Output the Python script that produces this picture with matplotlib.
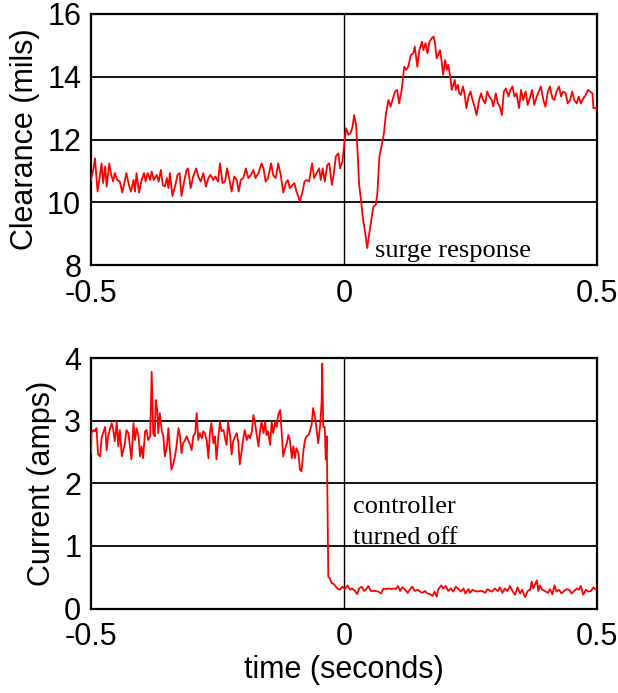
import matplotlib
matplotlib.use("Agg")
import matplotlib.pyplot as plt

plt.rcParams["font.family"] = ["Liberation Sans", "DejaVu Sans"]
plt.rcParams["axes.unicode_minus"] = False

# --- clearance trace (mils) ---
t_clear = [
    -0.500, -0.495, -0.492, -0.487, -0.484, -0.479, -0.476, -0.472, -0.469, -0.464,
    -0.460, -0.456, -0.453, -0.448, -0.443, -0.438, -0.433, -0.430, -0.425, -0.421,
    -0.416, -0.413, -0.410, -0.405, -0.400, -0.395, -0.392, -0.388, -0.383, -0.380,
    -0.376, -0.370, -0.366, -0.362, -0.358, -0.354, -0.350, -0.347, -0.344, -0.339,
    -0.334, -0.329, -0.325, -0.321, -0.316, -0.311, -0.308, -0.303, -0.298, -0.292,
    -0.288, -0.283, -0.278, -0.273, -0.268, -0.264, -0.258, -0.254, -0.249, -0.245,
    -0.240, -0.235, -0.231, -0.227, -0.222, -0.217, -0.212, -0.208, -0.204, -0.199,
    -0.194, -0.189, -0.184, -0.179, -0.175, -0.169, -0.163, -0.159, -0.155, -0.150,
    -0.144, -0.140, -0.135, -0.130, -0.125, -0.120, -0.115, -0.111, -0.107, -0.102,
    -0.098, -0.094, -0.090, -0.087, -0.082, -0.078, -0.074, -0.069, -0.063, -0.059,
    -0.054, -0.049, -0.046, -0.042, -0.038, -0.033, -0.029, -0.024, -0.021, -0.016,
    -0.011, -0.008, -0.003, 0.000, 0.004, 0.009, 0.013, 0.017, 0.020, 0.024,
    0.027, 0.030, 0.034, 0.037, 0.042, 0.046, 0.050, 0.053, 0.058, 0.063,
    0.066, 0.070, 0.074, 0.079, 0.083, 0.088, 0.092, 0.096, 0.101, 0.105,
    0.109, 0.114, 0.119, 0.123, 0.127, 0.132, 0.137, 0.140, 0.145, 0.149,
    0.154, 0.157, 0.161, 0.165, 0.169, 0.173, 0.177, 0.180, 0.183, 0.186,
    0.190, 0.193, 0.196, 0.200, 0.203, 0.206, 0.210, 0.213, 0.216, 0.219,
    0.221, 0.225, 0.228, 0.231, 0.235, 0.238, 0.242, 0.246, 0.250, 0.254,
    0.258, 0.262, 0.267, 0.271, 0.275, 0.279, 0.283, 0.287, 0.292, 0.295,
    0.300, 0.304, 0.308, 0.312, 0.316, 0.320, 0.325, 0.329, 0.333, 0.337,
    0.341, 0.346, 0.350, 0.354, 0.359, 0.363, 0.368, 0.372, 0.376, 0.381,
    0.385, 0.389, 0.394, 0.398, 0.403, 0.407, 0.412, 0.416, 0.420, 0.425,
    0.429, 0.433, 0.438, 0.442, 0.447, 0.451, 0.455, 0.460, 0.464, 0.468,
    0.473, 0.478, 0.482, 0.486, 0.491, 0.493, 0.497, 0.500,
]
clearance = [
    10.71, 11.08, 11.40, 10.34, 10.66, 11.24, 10.61, 11.14, 10.50, 11.24,
    10.87, 10.66, 10.93, 10.71, 10.66, 10.31, 10.71, 10.93, 10.55, 10.34,
    10.71, 10.34, 10.93, 10.31, 10.71, 10.93, 10.66, 10.93, 10.71, 10.98,
    10.71, 10.87, 10.66, 11.03, 10.55, 10.50, 10.77, 10.45, 10.93, 10.20,
    10.50, 10.87, 10.93, 10.20, 10.66, 11.03, 11.08, 10.45, 10.82, 11.08,
    10.82, 10.66, 10.93, 10.50, 10.77, 10.87, 10.71, 10.82, 10.66, 11.24,
    10.61, 10.66, 11.08, 10.77, 10.34, 10.82, 10.71, 10.34, 10.71, 10.77,
    11.08, 10.77, 10.87, 11.03, 10.77, 10.93, 11.24, 11.08, 10.66, 10.77,
    11.24, 10.87, 10.77, 11.24, 10.87, 10.31, 10.61, 10.71, 10.45, 10.55,
    10.61, 10.34, 10.18, 10.02, 10.34, 10.66, 10.71, 10.66, 11.24, 10.77,
    10.93, 11.08, 10.71, 11.08, 10.66, 11.19, 11.24, 10.55, 10.82, 11.46,
    11.56, 11.08, 11.30, 11.77, 12.36, 12.15, 12.20, 12.41, 12.78, 12.46,
    11.56, 10.55, 10.02, 9.55, 9.01, 8.54, 9.01, 9.33, 9.86, 9.92,
    10.29, 11.46, 11.77, 12.20, 12.84, 13.26, 13.05, 13.26, 13.53, 13.58,
    13.15, 13.58, 14.32, 14.22, 14.32, 14.69, 14.75, 14.96, 14.32, 14.85,
    15.12, 14.85, 15.07, 14.75, 15.12, 15.22, 15.28, 15.07, 14.59, 14.69,
    14.85, 14.48, 14.06, 14.53, 14.22, 14.38, 14.00, 13.58, 13.74, 13.90,
    13.58, 13.74, 13.47, 13.42, 13.69, 13.47, 13.00, 13.37, 13.53, 13.26,
    13.05, 12.78, 13.26, 13.47, 13.26, 13.15, 13.53, 13.37, 13.26, 13.05,
    13.47, 13.15, 13.05, 12.78, 13.53, 13.63, 13.37, 13.58, 13.69, 13.37,
    13.47, 13.00, 13.58, 13.26, 13.53, 13.10, 13.37, 13.58, 13.10, 13.37,
    13.53, 13.69, 13.26, 13.05, 13.53, 13.69, 13.31, 13.26, 13.53, 13.69,
    13.37, 13.53, 13.47, 13.15, 13.26, 13.53, 13.26, 13.15, 13.37, 13.15,
    13.31, 13.42, 13.58, 13.53, 13.47, 13.00, 13.00, 13.00,
]

# --- controller current trace (amps) ---
t_curr = [
    -0.500, -0.499, -0.495, -0.492, -0.489, -0.486, -0.482, -0.479, -0.476, -0.472,
    -0.469, -0.466, -0.462, -0.459, -0.456, -0.453, -0.449, -0.446, -0.443, -0.439,
    -0.436, -0.433, -0.430, -0.426, -0.423, -0.420, -0.416, -0.413, -0.410, -0.406,
    -0.403, -0.400, -0.397, -0.393, -0.390, -0.387, -0.383, -0.380, -0.377, -0.374,
    -0.372, -0.369, -0.367, -0.364, -0.360, -0.357, -0.354, -0.350, -0.347, -0.344,
    -0.341, -0.337, -0.334, -0.331, -0.327, -0.324, -0.321, -0.318, -0.314, -0.311,
    -0.308, -0.304, -0.301, -0.298, -0.294, -0.291, -0.288, -0.285, -0.281, -0.278,
    -0.275, -0.271, -0.268, -0.265, -0.262, -0.258, -0.255, -0.252, -0.248, -0.245,
    -0.242, -0.238, -0.235, -0.232, -0.229, -0.225, -0.222, -0.219, -0.215, -0.212,
    -0.209, -0.206, -0.202, -0.199, -0.196, -0.192, -0.189, -0.186, -0.182, -0.179,
    -0.176, -0.173, -0.169, -0.166, -0.163, -0.159, -0.156, -0.153, -0.150, -0.146,
    -0.143, -0.140, -0.136, -0.133, -0.130, -0.126, -0.123, -0.120, -0.117, -0.113,
    -0.110, -0.107, -0.103, -0.100, -0.097, -0.094, -0.090, -0.087, -0.084, -0.080,
    -0.077, -0.074, -0.070, -0.067, -0.064, -0.061, -0.057, -0.054, -0.051, -0.047,
    -0.044, -0.043, -0.041, -0.038, -0.036, -0.034, -0.033, -0.031, -0.028, -0.024,
    -0.021, -0.013, -0.008, -0.003, 0.002, 0.007, 0.012, 0.016, 0.022, 0.026,
    0.030, 0.035, 0.040, 0.045, 0.048, 0.053, 0.058, 0.063, 0.068, 0.073,
    0.078, 0.082, 0.088, 0.093, 0.098, 0.102, 0.107, 0.111, 0.115, 0.121,
    0.126, 0.130, 0.135, 0.140, 0.146, 0.150, 0.155, 0.160, 0.165, 0.170,
    0.175, 0.179, 0.183, 0.186, 0.192, 0.196, 0.201, 0.206, 0.211, 0.216,
    0.221, 0.226, 0.231, 0.236, 0.240, 0.246, 0.249, 0.254, 0.259, 0.264,
    0.269, 0.273, 0.279, 0.284, 0.289, 0.293, 0.298, 0.304, 0.308, 0.313,
    0.318, 0.323, 0.328, 0.333, 0.338, 0.343, 0.348, 0.352, 0.358, 0.363,
    0.368, 0.371, 0.374, 0.377, 0.381, 0.384, 0.387, 0.392, 0.397, 0.403,
    0.407, 0.412, 0.416, 0.420, 0.425, 0.430, 0.435, 0.440, 0.445, 0.450,
    0.455, 0.460, 0.464, 0.468, 0.473, 0.478, 0.483, 0.488, 0.493, 0.496,
    0.500,
]
current = [
    2.48, 2.80, 2.85, 2.83, 2.88, 2.46, 2.43, 2.72, 2.80, 2.90,
    2.53, 2.75, 2.88, 2.96, 2.85, 2.67, 2.98, 2.59, 2.85, 2.43,
    2.53, 2.64, 2.85, 2.80, 2.59, 2.38, 2.96, 2.69, 2.88, 2.75,
    2.43, 2.59, 2.40, 2.83, 2.85, 2.69, 2.75, 3.78, 2.80, 2.75,
    3.33, 3.17, 2.80, 3.12, 2.83, 2.75, 2.43, 2.59, 2.88, 2.53,
    2.22, 2.32, 2.43, 2.59, 2.88, 2.75, 2.48, 2.64, 2.69, 2.75,
    2.69, 2.61, 2.53, 2.75, 2.80, 3.12, 2.69, 2.80, 2.72, 2.83,
    2.80, 2.67, 2.40, 2.80, 2.96, 2.64, 2.75, 2.38, 2.77, 2.98,
    2.83, 2.85, 2.72, 2.61, 2.98, 2.75, 2.46, 2.67, 2.75, 2.80,
    2.67, 2.30, 2.53, 2.72, 2.85, 2.69, 2.77, 2.72, 2.83, 3.09,
    2.98, 2.80, 2.59, 2.83, 2.98, 2.80, 2.98, 2.77, 2.83, 2.61,
    2.98, 2.80, 2.98, 2.90, 3.09, 3.17, 2.80, 2.43, 2.53, 2.64,
    2.77, 2.69, 2.40, 2.59, 2.40, 2.56, 2.48, 2.22, 2.19, 2.53,
    2.69, 2.75, 2.77, 2.85, 2.93, 3.20, 3.04, 2.85, 2.64, 2.93,
    3.33, 3.91, 2.90, 2.90, 2.38, 2.75, 2.01, 0.51, 0.48, 0.40,
    0.40, 0.32, 0.30, 0.35, 0.31, 0.37, 0.30, 0.32, 0.28, 0.23,
    0.32, 0.35, 0.28, 0.32, 0.36, 0.28, 0.28, 0.28, 0.27, 0.24,
    0.32, 0.31, 0.32, 0.31, 0.32, 0.31, 0.36, 0.28, 0.34, 0.30,
    0.25, 0.30, 0.35, 0.28, 0.30, 0.27, 0.25, 0.28, 0.24, 0.23,
    0.20, 0.27, 0.19, 0.30, 0.37, 0.32, 0.36, 0.28, 0.32, 0.27,
    0.35, 0.31, 0.27, 0.32, 0.24, 0.31, 0.25, 0.30, 0.28, 0.27,
    0.28, 0.28, 0.25, 0.31, 0.28, 0.27, 0.32, 0.28, 0.34, 0.25,
    0.32, 0.28, 0.36, 0.28, 0.22, 0.34, 0.24, 0.30, 0.18, 0.28,
    0.30, 0.43, 0.32, 0.37, 0.45, 0.28, 0.37, 0.30, 0.28, 0.25,
    0.31, 0.23, 0.37, 0.27, 0.30, 0.24, 0.28, 0.31, 0.30, 0.24,
    0.28, 0.32, 0.30, 0.36, 0.22, 0.30, 0.27, 0.28, 0.34, 0.31,
    0.31,
]

x_ticks = [-0.5, 0, 0.5]
x_ticklabels = ["-0.5", "0", "0.5"]
clear_ticks = [8, 10, 12, 14, 16]
curr_ticks = [0, 1, 2, 3, 4]

fig = plt.figure(figsize=(6.18, 6.93), dpi=100)
ax1 = fig.add_axes([0.1472, 0.6176, 0.8188, 0.3622])
ax2 = fig.add_axes([0.1472, 0.1219, 0.8188, 0.3615])

for ax, yt in ((ax1, clear_ticks), (ax2, curr_ticks)):
    ax.set_xlim(-0.5, 0.5)
    ax.set_ylim(yt[0], yt[-1])
    ax.set_xticks(x_ticks)
    ax.set_xticklabels(x_ticklabels)
    ax.set_yticks(yt)
    ax.tick_params(length=0, labelsize=22, pad=7)
    ax.tick_params(axis="x", pad=10)
    ax.grid(True, axis="y", color="black", linewidth=1.3)
    ax.axvline(0, color="black", linewidth=1.0, zorder=1)
    for sp in ax.spines.values():
        sp.set_linewidth(1.6)
    ax.set_axisbelow(True)

ax1.plot(t_clear, clearance, color="#ff0000", linewidth=1.3, zorder=3)
ax2.plot(t_curr, current, color="#ff0000", linewidth=1.3, zorder=3)

ax1.set_ylabel("Clearance (mils)", fontsize=22, labelpad=5)
ax2.set_ylabel("Current (amps)", fontsize=22, labelpad=5)
ax2.set_xlabel("time (seconds)", fontsize=22, labelpad=2)

serif = ["Liberation Serif", "DejaVu Serif"]
ax1.text(0.061, 8.27, "surge response", family=serif, fontsize=19,
         ha="left", va="baseline")
ax2.text(0.018, 1.52, "controller", family=serif, fontsize=19,
         ha="left", va="baseline")
ax2.text(0.018, 1.03, "turned off", family=serif, fontsize=19,
         ha="left", va="baseline")

fig.savefig("out.png", dpi=100)
